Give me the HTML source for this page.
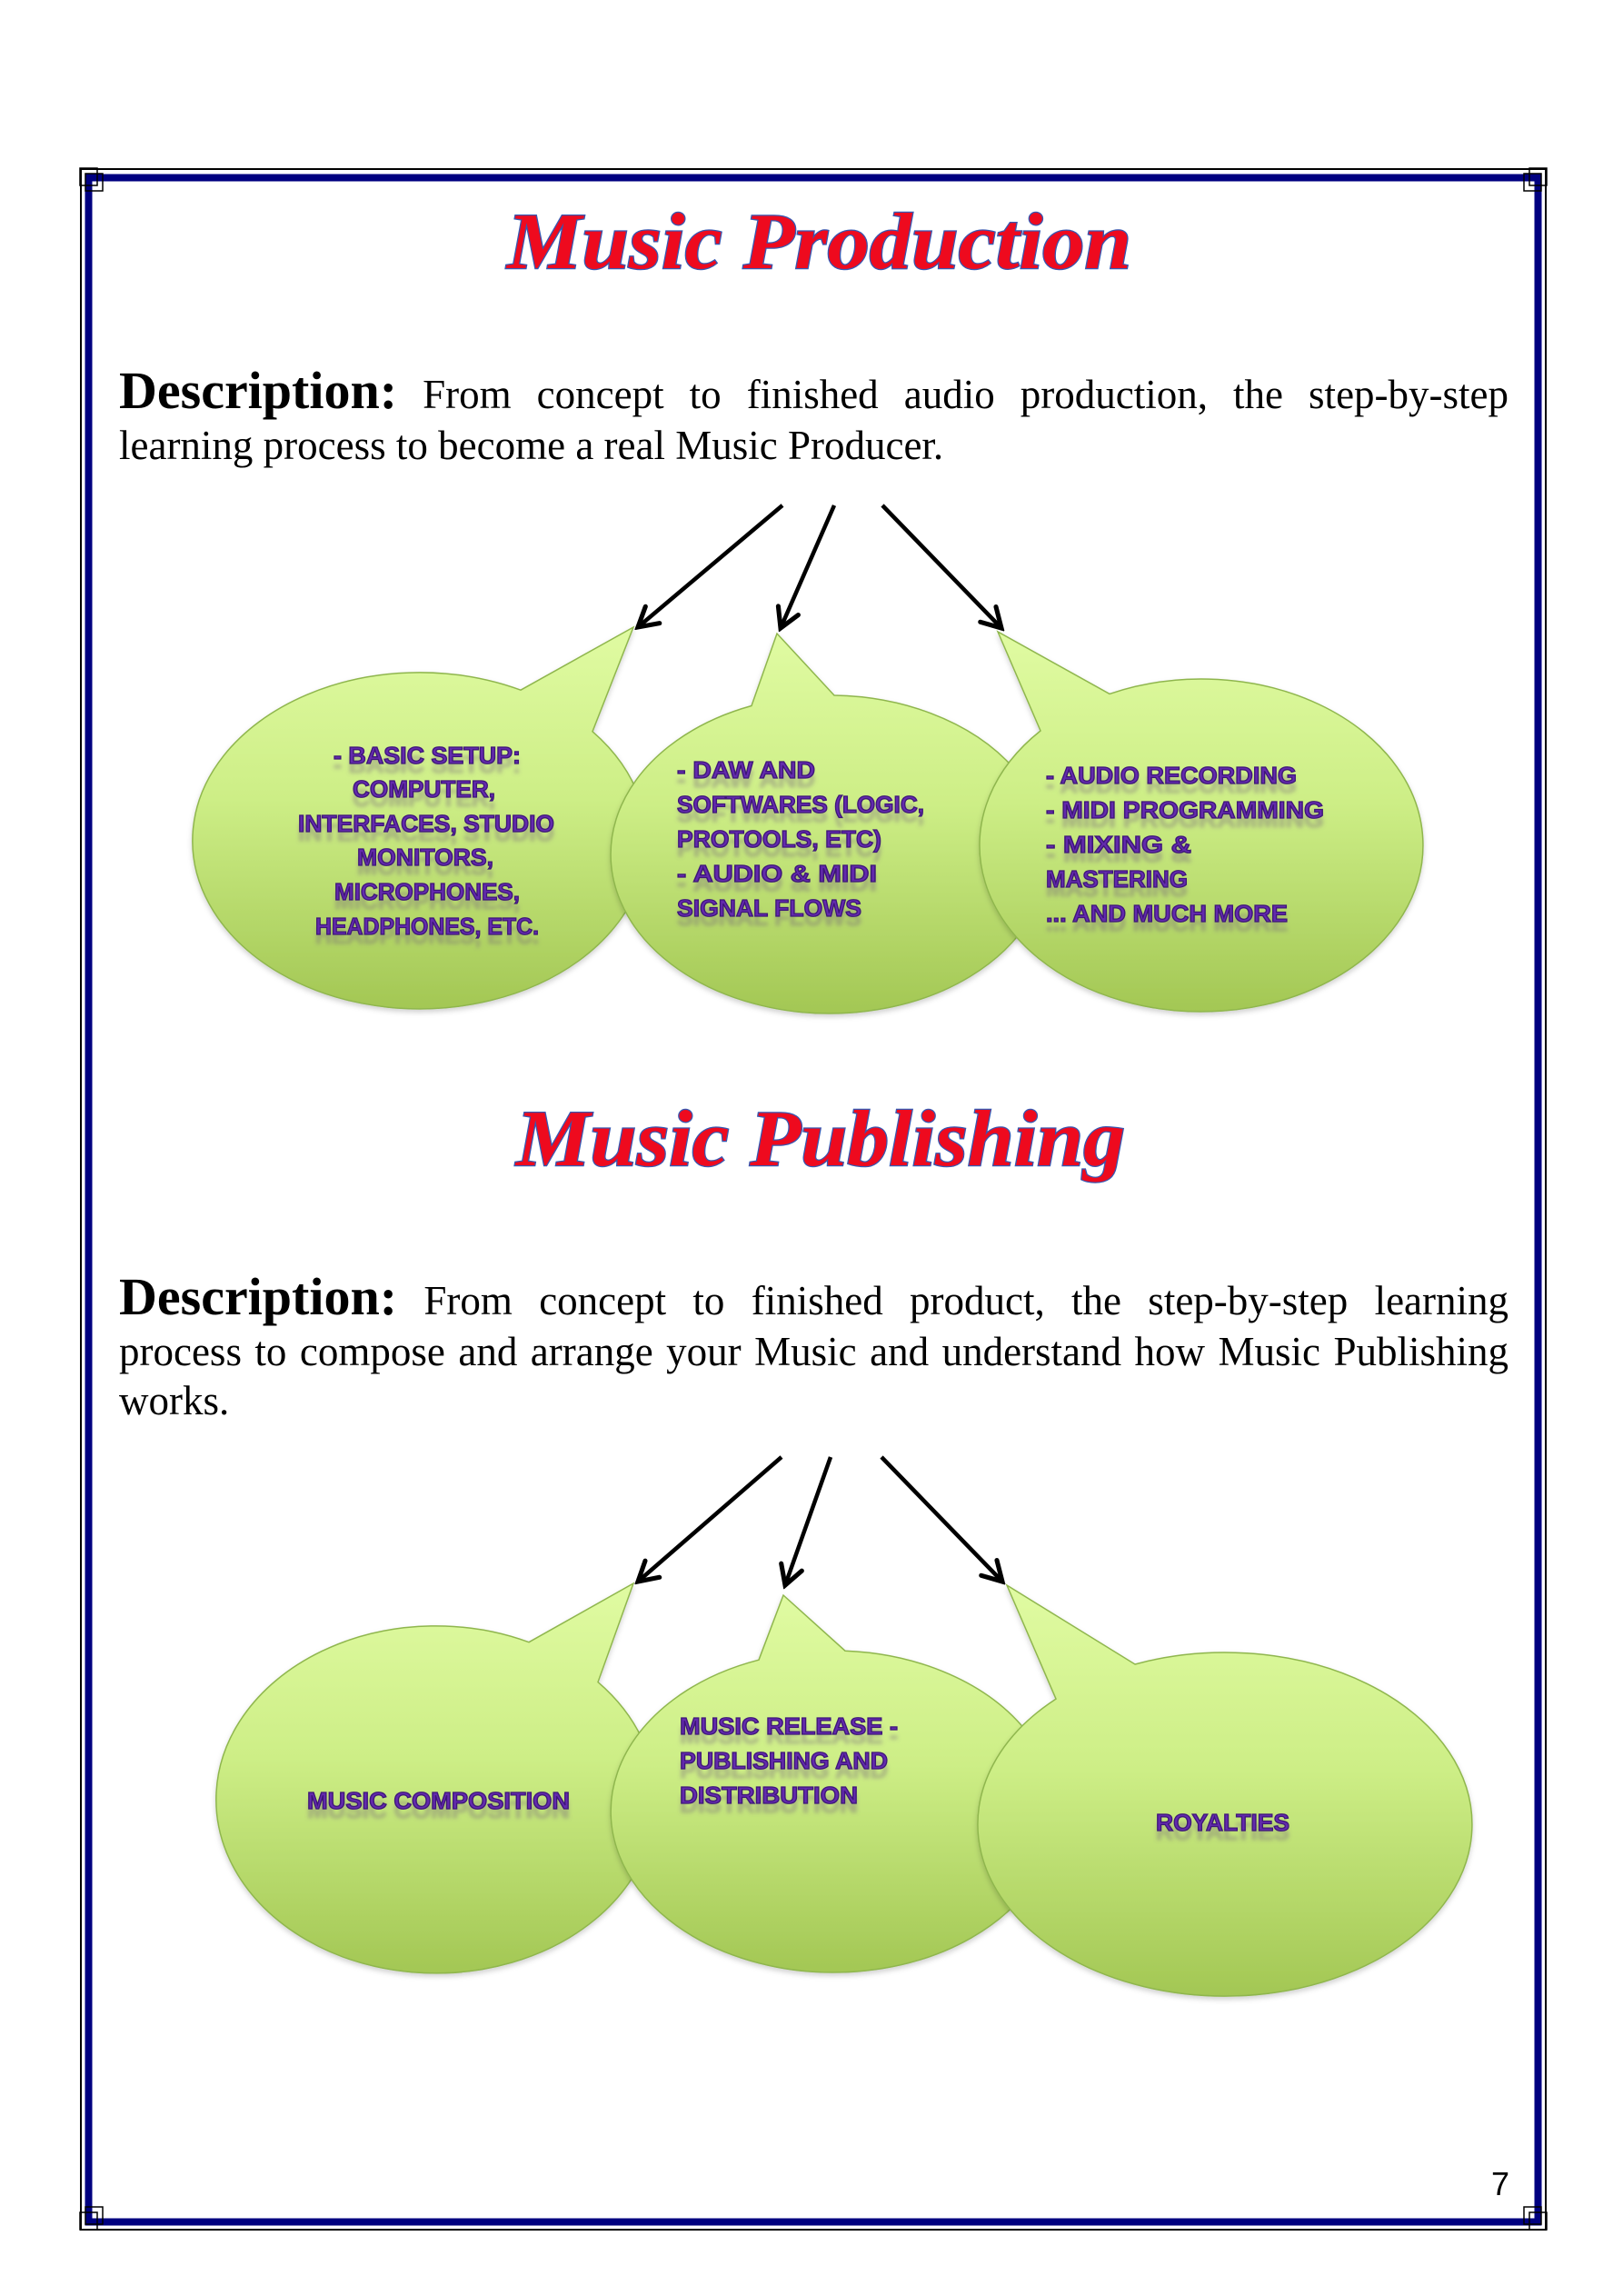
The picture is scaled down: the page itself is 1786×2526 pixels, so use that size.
<!DOCTYPE html>
<html>
<head>
<meta charset="utf-8">
<style>
  html,body{margin:0;padding:0;background:#fff;}
  #pg{position:relative;width:1786px;height:2526px;background:#fff;overflow:hidden;}
  svg{position:absolute;left:0;top:0;}
  .l{position:absolute;left:131px;width:1529px;font-family:"Liberation Serif",serif;font-size:45px;line-height:0;color:#000;text-align:justify;text-align-last:justify;}
  .l b{font-size:58px;}
  .n{text-align:left;text-align-last:left;}
</style>
</head>
<body>
<div id="pg">
<svg width="1786" height="2526" viewBox="0 0 1786 2526" xmlns="http://www.w3.org/2000/svg">
  <defs>
    <linearGradient id="gr" x1="0" y1="0" x2="0" y2="1">
      <stop offset="0" stop-color="#e0fba2"/>
      <stop offset="0.45" stop-color="#cdee86"/>
      <stop offset="1" stop-color="#a3c754"/>
    </linearGradient>
    <filter id="sh" x="-10%" y="-10%" width="120%" height="125%">
      <feDropShadow dx="0" dy="3" stdDeviation="3" flood-color="#000" flood-opacity="0.18"/>
    </filter>
    <filter id="rf" x="-5%" y="-20%" width="110%" height="160%">
      <feGaussianBlur in="SourceAlpha" stdDeviation="2" result="b"/>
      <feOffset in="b" dy="10" result="o"/>
      <feFlood flood-color="#6e5a7a" flood-opacity="0.35"/>
      <feComposite in2="o" operator="in" result="s"/>
      <feMerge><feMergeNode in="s"/><feMergeNode in="SourceGraphic"/></feMerge>
    </filter>
    <marker id="ah" viewBox="0 0 20 20" refX="17" refY="10" markerWidth="30" markerHeight="30" markerUnits="userSpaceOnUse" orient="auto">
      <path d="M3,2 L17,10 L3,18" fill="none" stroke="#000" stroke-width="3.4" stroke-linecap="round"/>
    </marker>
  </defs>

  <!-- page border -->
  <rect x="89" y="186" width="1612" height="2267" fill="none" stroke="#000" stroke-width="2"/>
  <rect x="97.5" y="195.5" width="1595" height="2249" fill="none" stroke="#000080" stroke-width="8"/>
  <g fill="none" stroke="#000" stroke-width="1.5">
    <rect x="88" y="185" width="19" height="19"/>
    <rect x="94" y="191" width="19" height="19"/>
    <rect x="1683" y="185" width="19" height="19"/>
    <rect x="1677" y="191" width="19" height="19"/>
    <rect x="88" y="2434" width="19" height="19"/>
    <rect x="94" y="2428" width="19" height="19"/>
    <rect x="1683" y="2434" width="19" height="19"/>
    <rect x="1677" y="2428" width="19" height="19"/>
  </g>

  <!-- Titles -->
  <text x="558" y="295" textLength="687" lengthAdjust="spacingAndGlyphs" font-family="Liberation Serif, serif" font-weight="bold" font-style="italic" font-size="88" fill="#ee0a1e" stroke="#3658b2" stroke-width="2.5" paint-order="stroke">Music Production</text>
  <text x="568" y="1282" textLength="670" lengthAdjust="spacingAndGlyphs" font-family="Liberation Serif, serif" font-weight="bold" font-style="italic" font-size="88" fill="#ee0a1e" stroke="#3658b2" stroke-width="2.5" paint-order="stroke">Music Publishing</text>

  <!-- arrows -->
  <g stroke="#000" stroke-width="4.5" marker-end="url(#ah)">
    <line x1="861" y1="556" x2="702" y2="690"/>
    <line x1="918" y1="556" x2="859" y2="691"/>
    <line x1="971" y1="556" x2="1102" y2="691"/>
    <line x1="860" y1="1603" x2="702" y2="1740"/>
    <line x1="914" y1="1603" x2="864" y2="1744"/>
    <line x1="970" y1="1603" x2="1103" y2="1740"/>
  </g>

  <!-- B1 -->
  <path d="M 573 759.2 L 697 690 L 652 804.8 A 250 185 0 1 1 573 759.2 Z" fill="url(#gr)" stroke="#8fb64e" stroke-width="1.5" filter="url(#sh)"/>
  <g font-family="Liberation Sans, sans-serif" font-weight="bold" font-size="26" fill="#6329ad" stroke="#3e1678" stroke-width="1.3" filter="url(#rf)">
    <text x="367" y="840" textLength="206" lengthAdjust="spacingAndGlyphs">- BASIC SETUP:</text>
    <text x="388" y="877" textLength="157" lengthAdjust="spacingAndGlyphs">COMPUTER,</text>
    <text x="328" y="915" textLength="282" lengthAdjust="spacingAndGlyphs">INTERFACES, STUDIO</text>
    <text x="393" y="952" textLength="150" lengthAdjust="spacingAndGlyphs">MONITORS,</text>
    <text x="368" y="990" textLength="204" lengthAdjust="spacingAndGlyphs">MICROPHONES,</text>
    <text x="347" y="1028" textLength="246" lengthAdjust="spacingAndGlyphs">HEADPHONES, ETC.</text>
  </g>

  <!-- B2 -->
  <path d="M 827 776.5 L 855 697 L 918 765 A 241 175 0 1 1 827 776.5 Z" fill="url(#gr)" stroke="#8fb64e" stroke-width="1.5" filter="url(#sh)"/>
  <g font-family="Liberation Sans, sans-serif" font-weight="bold" font-size="26" fill="#6329ad" stroke="#3e1678" stroke-width="1.3" filter="url(#rf)">
    <text x="745" y="856" textLength="152" lengthAdjust="spacingAndGlyphs">- DAW AND</text>
    <text x="745" y="894" textLength="272" lengthAdjust="spacingAndGlyphs">SOFTWARES (LOGIC,</text>
    <text x="745" y="932" textLength="225" lengthAdjust="spacingAndGlyphs">PROTOOLS, ETC)</text>
    <text x="745" y="970" textLength="220" lengthAdjust="spacingAndGlyphs">- AUDIO &amp; MIDI</text>
    <text x="745" y="1008" textLength="203" lengthAdjust="spacingAndGlyphs">SIGNAL FLOWS</text>
  </g>

  <!-- B3 -->
  <path d="M 1145 804 L 1098 695 L 1221 763.4 A 244 183 0 1 1 1145 804 Z" fill="url(#gr)" stroke="#8fb64e" stroke-width="1.5" filter="url(#sh)"/>
  <g font-family="Liberation Sans, sans-serif" font-weight="bold" font-size="26" fill="#6329ad" stroke="#3e1678" stroke-width="1.3" filter="url(#rf)">
    <text x="1151" y="862" textLength="276" lengthAdjust="spacingAndGlyphs">- AUDIO RECORDING</text>
    <text x="1151" y="900" textLength="306" lengthAdjust="spacingAndGlyphs">- MIDI PROGRAMMING</text>
    <text x="1151" y="938" textLength="160" lengthAdjust="spacingAndGlyphs">- MIXING &amp;</text>
    <text x="1151" y="976" textLength="156" lengthAdjust="spacingAndGlyphs">MASTERING</text>
    <text x="1151" y="1014" textLength="266" lengthAdjust="spacingAndGlyphs">... AND MUCH MORE</text>
  </g>

  <!-- P1 -->
  <path d="M 582 1806.7 L 697 1742 L 658 1850.6 A 242 191 0 1 1 582 1806.7 Z" fill="url(#gr)" stroke="#8fb64e" stroke-width="1.5" filter="url(#sh)"/>
  <g font-family="Liberation Sans, sans-serif" font-weight="bold" font-size="26" fill="#6329ad" stroke="#3e1678" stroke-width="1.3" filter="url(#rf)">
    <text x="338" y="1990" textLength="289" lengthAdjust="spacingAndGlyphs">MUSIC COMPOSITION</text>
  </g>

  <!-- P2 -->
  <path d="M 835 1826.2 L 862 1755 L 930 1816.2 A 245 177 0 1 1 835 1826.2 Z" fill="url(#gr)" stroke="#8fb64e" stroke-width="1.5" filter="url(#sh)"/>
  <g font-family="Liberation Sans, sans-serif" font-weight="bold" font-size="26" fill="#6329ad" stroke="#3e1678" stroke-width="1.3" filter="url(#rf)">
    <text x="748" y="1908" textLength="240" lengthAdjust="spacingAndGlyphs">MUSIC RELEASE -</text>
    <text x="748" y="1946" textLength="229" lengthAdjust="spacingAndGlyphs">PUBLISHING AND</text>
    <text x="748" y="1984" textLength="196" lengthAdjust="spacingAndGlyphs">DISTRIBUTION</text>
  </g>

  <!-- P3 -->
  <path d="M 1162 1869.1 L 1108 1744 L 1249 1831 A 272 189 0 1 1 1162 1869.1 Z" fill="url(#gr)" stroke="#8fb64e" stroke-width="1.5" filter="url(#sh)"/>
  <g font-family="Liberation Sans, sans-serif" font-weight="bold" font-size="26" fill="#6329ad" stroke="#3e1678" stroke-width="1.3" filter="url(#rf)">
    <text x="1272" y="2014" textLength="147" lengthAdjust="spacingAndGlyphs">ROYALTIES</text>
  </g>

  <!-- page number -->
  <text x="1641" y="2415" font-family="Liberation Sans, sans-serif" font-size="36" fill="#000">7</text>
</svg>

<div class="l" style="top:430.4px;"><b>Description:</b> From concept to finished audio production, the step-by-step</div>
<div class="l n" style="top:489.8px;">learning process to become a real Music Producer.</div>

<div class="l" style="top:1427.4px;"><b>Description:</b> From concept to finished product, the step-by-step learning</div>
<div class="l" style="top:1486.8px;">process to compose and arrange your Music and understand how Music Publishing</div>
<div class="l n" style="top:1540.8px;">works.</div>
</div>
</body>
</html>
